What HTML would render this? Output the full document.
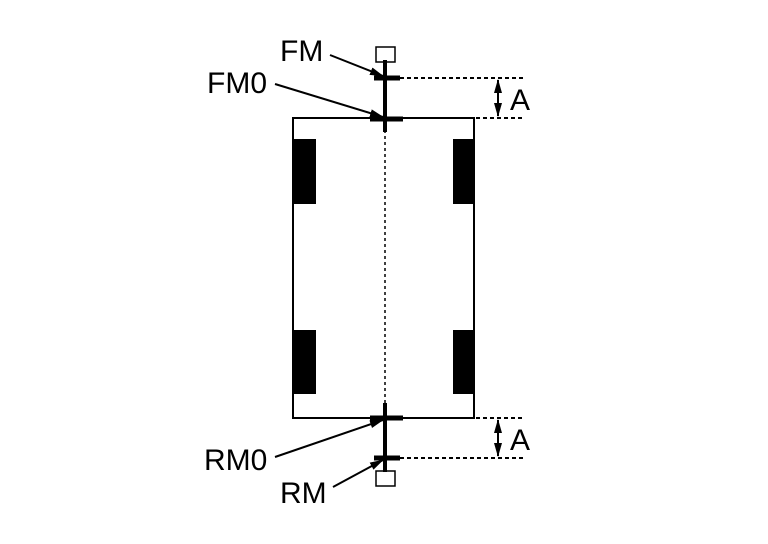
<!DOCTYPE html>
<html><head><style>body{margin:0;background:#fff}svg{display:block}text{font-family:"Liberation Sans",sans-serif;font-size:30px;fill:#000}</style></head><body>
<svg width="768" height="544" viewBox="0 0 768 544">
<defs><marker id="ah" markerWidth="14" markerHeight="8" refX="13" refY="4" orient="auto" markerUnits="userSpaceOnUse"><path d="M0,0 L14,4 L0,8 z"/></marker></defs>
<rect x="293" y="118" width="181" height="300" fill="none" stroke="#000" stroke-width="2"/>
<rect x="294" y="139" width="22" height="65"/><rect x="294" y="330" width="22" height="64"/>
<rect x="453" y="139" width="21" height="65"/><rect x="453" y="330" width="21" height="64"/>
<line x1="385" y1="130" x2="385" y2="405" stroke="#000" stroke-width="1.5" stroke-dasharray="3,3"/>
<rect x="376" y="47" width="19" height="15" fill="#fff" stroke="#000" stroke-width="1.5"/>
<line x1="385" y1="60" x2="385" y2="132" stroke="#000" stroke-width="4"/>
<line x1="374" y1="78" x2="400" y2="78" stroke="#000" stroke-width="5"/>
<line x1="370" y1="119" x2="403" y2="119" stroke="#000" stroke-width="5"/>
<rect x="376" y="471" width="19" height="15" fill="#fff" stroke="#000" stroke-width="1.5"/>
<line x1="385" y1="403" x2="385" y2="472" stroke="#000" stroke-width="4"/>
<line x1="370" y1="418" x2="403" y2="418" stroke="#000" stroke-width="5"/>
<line x1="374" y1="458" x2="400" y2="458" stroke="#000" stroke-width="5"/>
<g stroke="#000" stroke-width="2" stroke-dasharray="4,3">
<line x1="400" y1="78" x2="524" y2="78"/><line x1="476" y1="118" x2="524" y2="118"/>
<line x1="476" y1="418" x2="524" y2="418"/><line x1="400" y1="458" x2="524" y2="458"/></g>
<g stroke="#000" stroke-width="2">
<line x1="498" y1="98" x2="498" y2="80" marker-end="url(#ah)"/><line x1="498" y1="98" x2="498" y2="116" marker-end="url(#ah)"/>
<line x1="498" y1="438" x2="498" y2="420" marker-end="url(#ah)"/><line x1="498" y1="438" x2="498" y2="456" marker-end="url(#ah)"/>
<line x1="330" y1="55" x2="383" y2="76" marker-end="url(#ah)"/>
<line x1="275" y1="84" x2="383" y2="117" marker-end="url(#ah)"/>
<line x1="275" y1="457" x2="383" y2="420" marker-end="url(#ah)"/>
<line x1="333" y1="487" x2="383" y2="460" marker-end="url(#ah)"/></g>
<text x="510" y="110">A</text><text x="510" y="450">A</text>
<text x="280" y="61">FM</text><text x="207" y="93">FM0</text>
<text x="204" y="470">RM0</text><text x="280" y="503">RM</text>
</svg></body></html>
